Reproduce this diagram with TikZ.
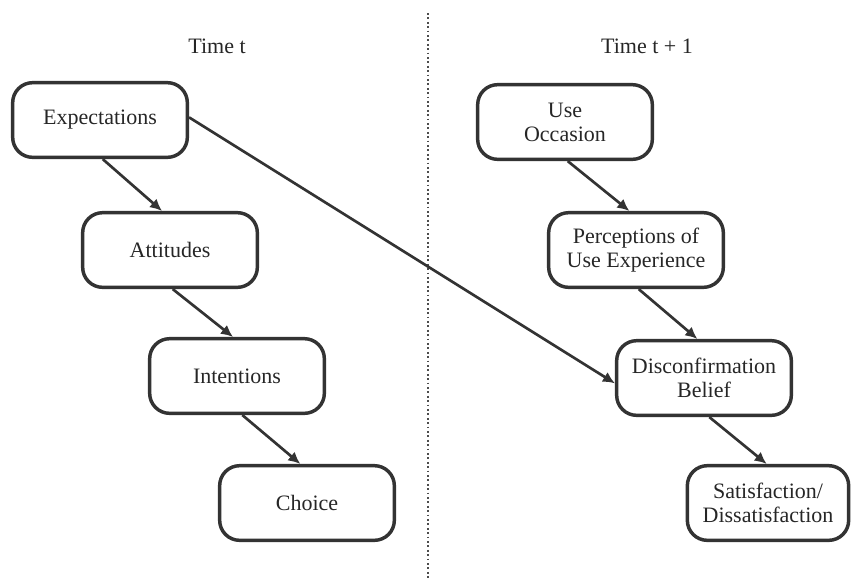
\documentclass[tikz,border=0pt]{standalone}
\usepackage{fontspec}
\setmainfont{Liberation Serif}
\usetikzlibrary{arrows.meta}
\begin{document}
\begin{tikzpicture}[x=0.75pt,y=0.75pt,yscale=-1,xscale=1,
  every node/.style={font=\fontsize{16.5}{18}\selectfont, text=black!85},
  box/.style={draw=black!80, line width=2.6pt, rounded corners=15pt, align=center,
    minimum width=131pt, minimum height=56pt, inner sep=2pt},
  link/.style={draw=black!80, line width=2pt, -{Latex[length=9pt,width=8.5pt]}}]
\useasboundingbox (0,0) rectangle (852,579);

%Straight Lines [id:time divider]
\draw [black!70, dotted, line width=1.3pt] (428,13) -- (428,579);

% Text Node
\node (timeL) at (217,46) {Time t};
% Text Node
\node (timeR) at (647,46) {Time t + 1};

% Boxes, time t
\node [box] (expect) at (100,120) {Expectations};
\node [box] (attit) at (170,250) {Attitudes};
\node [box] (intent) at (237,376) {Intentions};
\node [box] (choice) at (307,503) {Choice};

% Boxes, time t + 1
\node [box] (useocc) at (565,122) {Use\\Occasion};
\node [box] (percep) at (636,250) {Perceptions of\\Use Experience};
\node [box] (disconf) at (704,378) {Disconfirmation\\Belief};
\node [box, minimum width=121pt] (satisf) at (768,503) {Satisfaction/\\Dissatisfaction};

% Arrows
\draw [link] ([xshift=2pt]expect.south) -- ([xshift=-6pt]attit.north);
\draw [link] ([xshift=2pt]attit.south) -- ([xshift=-3pt]intent.north);
\draw [link] ([xshift=4pt]intent.south) -- ([xshift=-5pt]choice.north);
\draw [link] ([xshift=2pt]useocc.south) -- ([xshift=-5pt]percep.north);
\draw [link] ([xshift=2pt]percep.south) -- ([xshift=-5pt]disconf.north);
\draw [link] ([xshift=4pt]disconf.south) -- ([xshift=-1pt]satisf.north);
\draw [link] ([yshift=-2pt]expect.east) -- ([yshift=4pt]disconf.west);
\end{tikzpicture}
\end{document}
